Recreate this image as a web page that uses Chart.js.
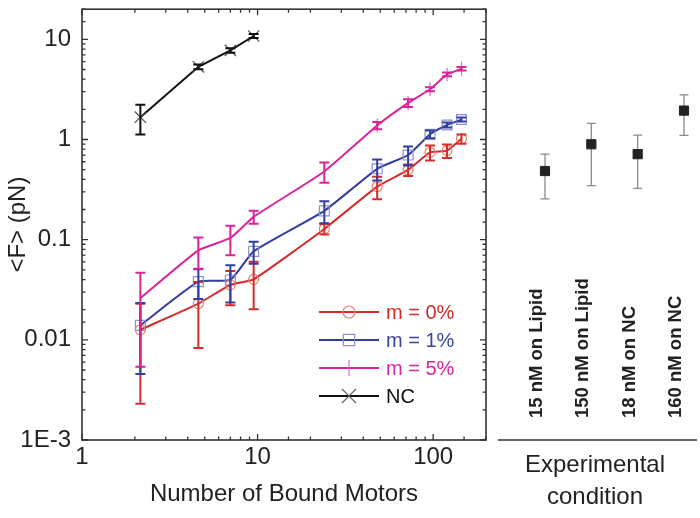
<!DOCTYPE html>
<html>
<head>
<meta charset="utf-8">
<script src="https://cdn.jsdelivr.net/npm/chart.js@4.4.0/dist/chart.umd.min.js"></script>
<style>
  body { margin: 0; background: #fff; }
  #wrap { position: relative; width: 700px; height: 518px; }
  #left { position: absolute; left: 0; top: 0; }
  #right { position: absolute; left: 470px; top: 0; }
</style>
</head>
<body>
<div id="wrap">
  <canvas id="left" width="500" height="518"></canvas>
  <canvas id="right" width="230" height="518"></canvas>
</div>
<script>
// number of bound motors (x)
var motors = [2.15, 4.6, 7.0, 9.5, 24, 48, 72, 96, 120, 145];
var motorsNC = [2.15, 4.6, 7.0, 9.5];

// <F> in pN with error bars
var forceM0 = [0.0126, 0.023, 0.0354, 0.0402, 0.128, 0.339, 0.498, 0.745, 0.774, 1.016];
var errM0   = [0.0103, 0.0147, 0.0133, 0.02, 0.0155, 0.085, 0.066, 0.127, 0.12, 0.108];
var forceM1 = [0.01396, 0.0381, 0.0396, 0.0765, 0.194, 0.51, 0.70, 1.128, 1.396, 1.585];
var errM1   = [0.0094, 0.0125, 0.016, 0.019, 0.048, 0.12, 0.15, 0.1, 0.08, 0.07];
var forceM5 = [0.0261, 0.0783, 0.104, 0.169, 0.48, 1.38, 2.32, 3.18, 4.47, 5.09];
var errM5   = [0.0207, 0.027, 0.034, 0.025, 0.11, 0.115, 0.21, 0.15, 0.2, 0.2];
var forceNC = [1.67, 5.32, 7.76, 10.8];
var errNC   = [0.55, 0.3, 0.4, 0.5];

// right panel
var conditions = ['15 nM on Lipid', '150 nM on Lipid', '18 nM on NC', '160 nM on NC'];
var forceCond = [0.473, 0.873, 0.696, 1.887];
var errCond   = [0.223, 0.535, 0.378, 0.815];

// tick labels
var yTicks = [0.001, 0.01, 0.1, 1, 10];
var yTickText = ['1E-3', '0.01', '0.1', '1', '10'];
var xTicks = [1, 10, 100];
var xTickText = ['1', '10', '100'];

Chart.defaults.font.family = "'Liberation Sans', Arial, sans-serif";
Chart.defaults.color = '#222';

function tickLabel(list, text, v) {
  for (var i = 0; i < list.length; i++) {
    if (Math.abs(v - list[i]) < list[i] * 1e-6) return text[i];
  }
  return '';
}
function isDecade(v) {
  var l = Math.log10(v);
  return Math.abs(l - Math.round(l)) < 1e-6;
}
function toXY(xs, ys) {
  return xs.map(function(x, i) { return { x: x, y: ys[i] }; });
}
// keep the plot box where it is, no room for overflowing end labels
function noPad(s) {
  s.paddingTop = 0; s.paddingBottom = 0;
  s.paddingLeft = 0; s.paddingRight = 0;
}

function drawErrors(chart) {
  var ctx = chart.ctx;
  chart.data.datasets.forEach(function(ds, di) {
    if (!ds.errors) return;
    var meta = chart.getDatasetMeta(di);
    var yScale = chart.scales[meta.yAxisID];
    var cap = ds.capWidth || 10;
    ctx.save();
    ctx.strokeStyle = ds.errColor || ds.borderColor;
    ctx.lineWidth = ds.errWidth || 2;
    ctx.beginPath();
    meta.data.forEach(function(pt, i) {
      var d = ds.data[i];
      var v = typeof d === 'object' ? d.y : d;
      var e = ds.errors[i];
      var y1 = yScale.getPixelForValue(v + e);
      var y2 = yScale.getPixelForValue(v - e);
      ctx.moveTo(pt.x, y1); ctx.lineTo(pt.x, y2);
      ctx.moveTo(pt.x - cap / 2, y1); ctx.lineTo(pt.x + cap / 2, y1);
      ctx.moveTo(pt.x - cap / 2, y2); ctx.lineTo(pt.x + cap / 2, y2);
    });
    ctx.stroke();
    ctx.restore();
  });
}

var errorBarsFront = { id: 'errorBarsFront', afterDatasetsDraw: drawErrors };
var errorBarsBehind = { id: 'errorBarsBehind', beforeDatasetsDraw: drawErrors };

// box with inward ticks on all four sides
var frameTicks = {
  id: 'frameTicks',
  afterDraw: function(chart) {
    var ctx = chart.ctx, a = chart.chartArea;
    var xs = chart.scales.x, ys = chart.scales.y;
    ctx.save();
    ctx.strokeStyle = '#333';
    ctx.lineWidth = 1.6;
    ctx.strokeRect(a.left, a.top, a.right - a.left, a.bottom - a.top);
    ctx.lineWidth = 1.3;
    ctx.beginPath();
    ys.ticks.forEach(function(t) {
      var y = ys.getPixelForValue(t.value);
      var len = isDecade(t.value) ? 6 : 3.5;
      ctx.moveTo(a.left, y); ctx.lineTo(a.left + len, y);
      ctx.moveTo(a.right, y); ctx.lineTo(a.right - len, y);
    });
    xs.ticks.forEach(function(t) {
      var x = xs.getPixelForValue(t.value);
      var len = isDecade(t.value) ? 6 : 3.5;
      ctx.moveTo(x, a.bottom); ctx.lineTo(x, a.bottom - len);
      ctx.moveTo(x, a.top); ctx.lineTo(x, a.top + len);
    });
    ctx.stroke();
    ctx.restore();
  }
};

// legend: line with marker in the middle, coloured text
var lineLegend = {
  id: 'lineLegend',
  afterDraw: function(chart) {
    var ctx = chart.ctx;
    var x0 = 319, x1 = 379, y = 312;
    chart.data.datasets.forEach(function(ds) {
      ctx.save();
      ctx.strokeStyle = ds.borderColor;
      ctx.lineWidth = 2.2;
      ctx.beginPath();
      ctx.moveTo(x0, y); ctx.lineTo(x1, y);
      ctx.stroke();
      ctx.strokeStyle = ds.pointBorderColor;
      ctx.fillStyle = 'rgba(0,0,0,0)';
      ctx.lineWidth = 1.2;
      Chart.helpers.drawPoint(ctx, {
        pointStyle: ds.pointStyle,
        rotation: ds.pointRotation || 0,
        radius: ds.legendRadius || ds.pointRadius,
        borderWidth: 1.2
      }, (x0 + x1) / 2, y);
      ctx.fillStyle = ds.textColor;
      ctx.font = "20px 'Liberation Sans', Arial, sans-serif";
      ctx.textAlign = 'left';
      ctx.textBaseline = 'middle';
      ctx.fillText(ds.label, 386, y + 1);
      ctx.restore();
      y += 28;
    });
  }
};

new Chart(document.getElementById('left'), {
  type: 'line',
  data: {
    datasets: [
      {
        label: 'm = 0%', data: toXY(motors, forceM0), errors: errM0,
        borderColor: '#d62b2b', borderWidth: 2, tension: 0.15, textColor: '#d02a2a',
        pointStyle: 'circle', pointRadius: 5, pointBorderWidth: 1.2,
        pointBorderColor: '#e9806f', pointBackgroundColor: 'rgba(0,0,0,0)', legendRadius: 6
      },
      {
        label: 'm = 1%', data: toXY(motors, forceM1), errors: errM1,
        borderColor: '#343e9f', borderWidth: 2, tension: 0.15, textColor: '#3a44a2',
        pointStyle: 'rect', pointRadius: 7, pointBorderWidth: 1.2,
        pointBorderColor: '#8a90d0', pointBackgroundColor: 'rgba(0,0,0,0)', legendRadius: 8
      },
      {
        label: 'm = 5%', data: toXY(motors, forceM5), errors: errM5,
        borderColor: '#d9249c', borderWidth: 2, tension: 0.15, textColor: '#d6259a',
        pointStyle: 'line', pointRotation: 90, pointRadius: 7, pointBorderWidth: 1.2,
        pointBorderColor: '#e46bb9', pointBackgroundColor: 'rgba(0,0,0,0)', legendRadius: 8
      },
      {
        label: 'NC', data: toXY(motorsNC, forceNC), errors: errNC,
        borderColor: '#111', borderWidth: 2, tension: 0, textColor: '#111',
        pointStyle: 'crossRot', pointRadius: 8, pointBorderWidth: 1.2,
        pointBorderColor: '#555', pointBackgroundColor: 'rgba(0,0,0,0)', legendRadius: 10
      }
    ]
  },
  options: {
    responsive: false,
    animation: false,
    devicePixelRatio: 1,
    layout: { padding: { left: 0, right: 14, top: 4, bottom: 0 } },
    scales: {
      x: {
        type: 'logarithmic', min: 1, max: 200,
        grid: { display: false, drawTicks: false },
        border: { display: false },
        ticks: {
          autoSkip: false, maxRotation: 0, padding: 3, font: { size: 24 },
          callback: function(v) { return tickLabel(xTicks, xTickText, v); }
        },
        title: { display: true, text: 'Number of Bound Motors', font: { size: 24 }, padding: { top: 0, bottom: 9 } },
        afterFit: function(s) { s.height = 78; noPad(s); }
      },
      y: {
        type: 'logarithmic', min: 0.001, max: 20,
        grid: { display: false, drawTicks: false },
        border: { display: false },
        ticks: {
          autoSkip: false, padding: 11, font: { size: 24 },
          callback: function(v) { return tickLabel(yTicks, yTickText, v); }
        },
        title: { display: true, text: '<F> (pN)', font: { size: 24 }, padding: { top: 4, bottom: 0 } },
        afterFit: function(s) { s.width = 82; noPad(s); }
      }
    },
    plugins: { legend: { display: false }, tooltip: { enabled: false } }
  },
  plugins: [errorBarsFront, frameTicks, lineLegend]
});

// right panel: labels written upward above the baseline
var conditionLabels = {
  id: 'conditionLabels',
  afterDraw: function(chart) {
    var ctx = chart.ctx, a = chart.chartArea, xs = chart.scales.x;
    ctx.save();
    ctx.strokeStyle = '#333';
    ctx.lineWidth = 1.6;
    ctx.beginPath();
    ctx.moveTo(28, a.bottom); ctx.lineTo(227, a.bottom);
    ctx.stroke();
    ctx.fillStyle = '#222';
    ctx.font = "bold 18.5px 'Liberation Sans', Arial, sans-serif";
    ctx.textAlign = 'left';
    ctx.textBaseline = 'middle';
    chart.data.labels.forEach(function(lab, i) {
      ctx.save();
      ctx.translate(xs.getPixelForValue(i) - 8, 418);
      ctx.rotate(-Math.PI / 2);
      ctx.fillText(lab, 0, 0);
      ctx.restore();
    });
    ctx.font = "24px 'Liberation Sans', Arial, sans-serif";
    ctx.textAlign = 'center';
    ctx.fillText('Experimental', 125, 465);
    ctx.fillText('condition', 125, 497);
    ctx.restore();
  }
};

new Chart(document.getElementById('right'), {
  type: 'line',
  data: {
    labels: conditions,
    datasets: [{
      data: forceCond, errors: errCond, showLine: false,
      pointStyle: 'rect', pointRadius: 6.5, pointBorderWidth: 1,
      pointBackgroundColor: '#222', pointBorderColor: '#222',
      errColor: '#8a8a8a', errWidth: 1.3, capWidth: 9
    }]
  },
  options: {
    responsive: false,
    animation: false,
    devicePixelRatio: 1,
    layout: { padding: { left: 75, right: 16, top: 4, bottom: 0 } },
    scales: {
      x: {
        type: 'category', offset: false,
        grid: { display: false, drawTicks: false },
        border: { display: false },
        ticks: { display: false },
        afterFit: function(s) { s.height = 78; noPad(s); }
      },
      y: { type: 'logarithmic', display: false, min: 0.001, max: 20 }
    },
    plugins: { legend: { display: false }, tooltip: { enabled: false } }
  },
  plugins: [errorBarsBehind, conditionLabels]
});
</script>
</body>
</html>
